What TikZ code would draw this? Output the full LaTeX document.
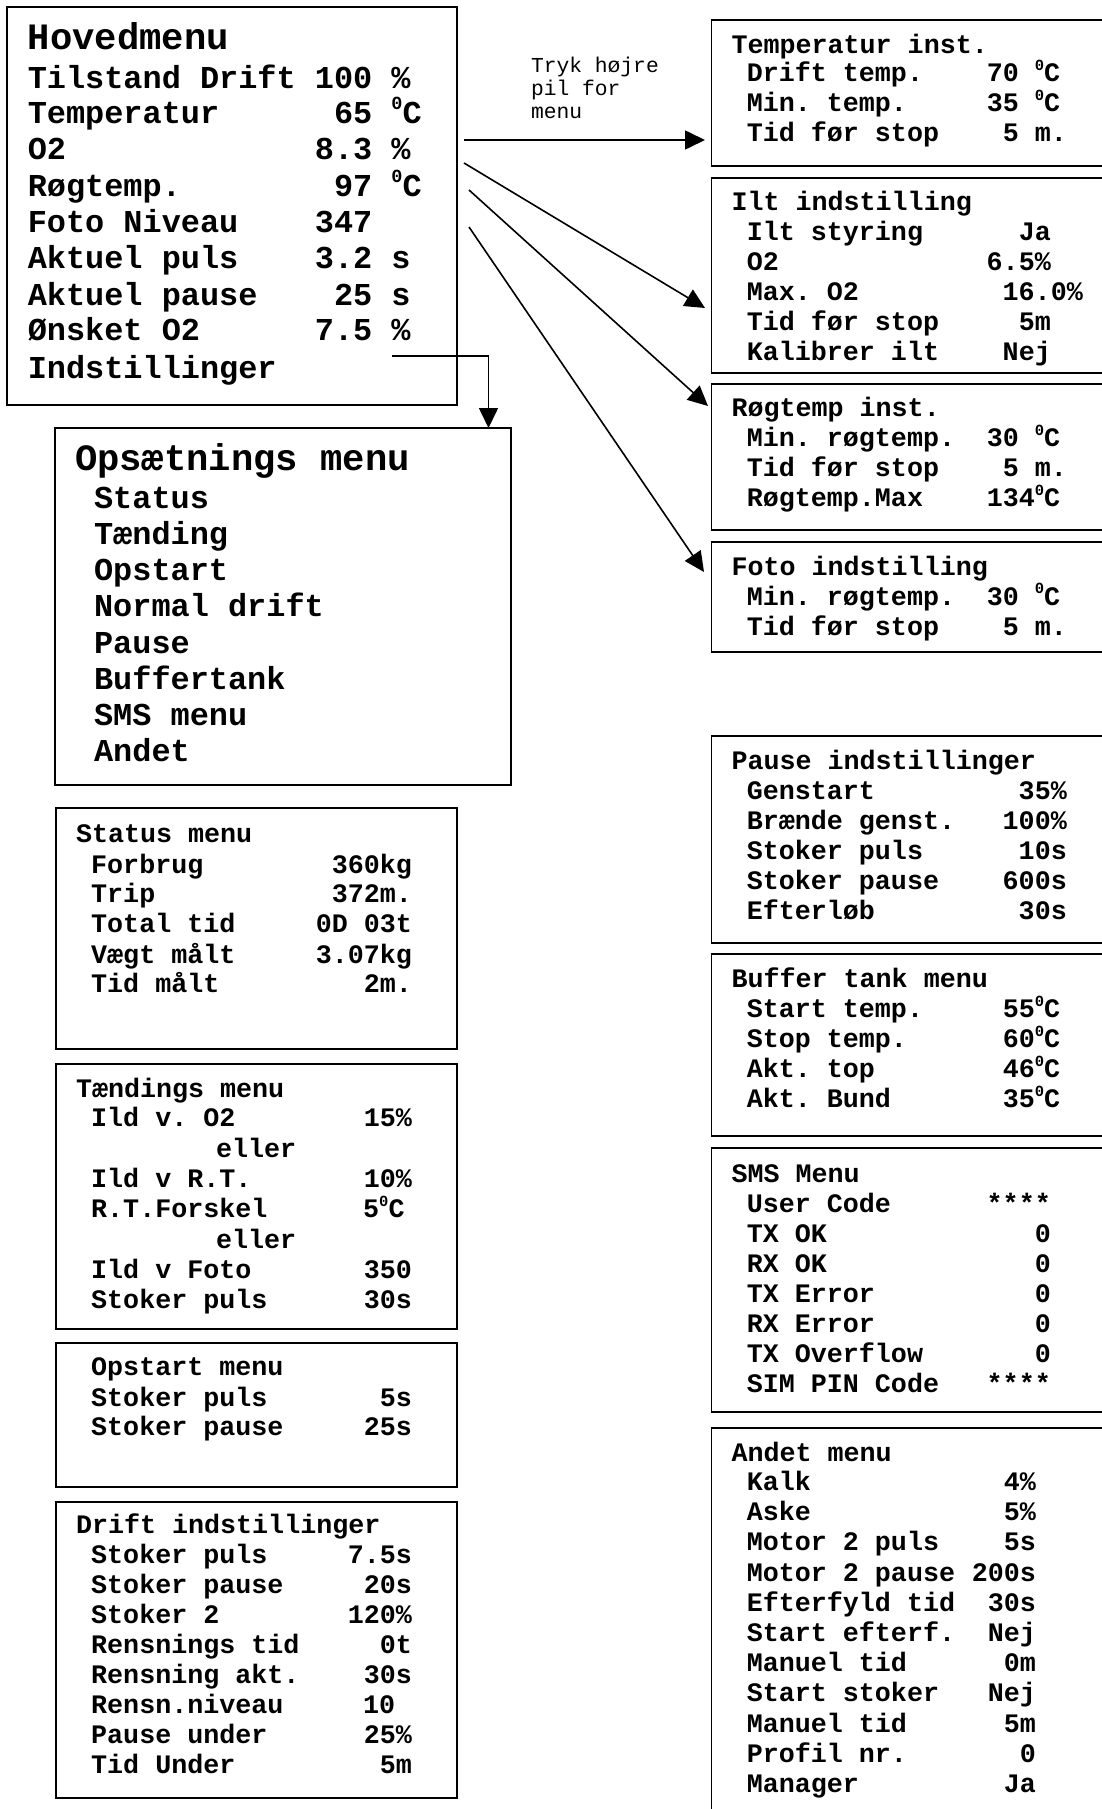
\documentclass[tikz,border=0pt]{standalone}
\usepackage{fontspec}
\setmonofont{Liberation Mono}
\usepackage{graphicx}
\usetikzlibrary{arrows.meta}
\newcommand\dgc{\raisebox{0.42em}{\scalebox{0.58}{0}}C}
\tikzset{
 box/.style={draw=black, line width=1.8pt, rectangle, inner sep=0pt, outer sep=0pt, anchor=north west},
 tx/.style={inner sep=0pt, outer sep=0pt, text=black},
 fhd/.style={tx, font=\ttfamily\bfseries\fontsize{37.2}{40}\selectfont},
 fbig/.style={tx, font=\ttfamily\bfseries\fontsize{31.9}{36}\selectfont},
 fsm/.style={tx, font=\ttfamily\bfseries\fontsize{26.7}{30}\selectfont},
 flab/.style={tx, font=\ttfamily\fontsize{21.3}{23.5}\selectfont},
 aL/.style={anchor=base west},
 aR/.style={anchor=base east},
 conn/.style={line width=1.6pt, draw=black},
 arr/.style={conn, -{Triangle[length=20pt,width=19pt]}},
}
\begin{document}
\begin{tikzpicture}[x=1pt,y=-1pt]
\useasboundingbox (0,0) rectangle (1101,1809);

% ---------- boxes ----------
\node[box, minimum width=450pt, minimum height=398pt] (main) at (7,7) {};
\node[box, minimum width=456pt, minimum height=357pt] (ops) at (55,428) {};
\node[box, minimum width=401pt, minimum height=241pt] (status) at (56,808) {};
\node[box, minimum width=401pt, minimum height=265pt] (taend) at (56,1064) {};
\node[box, minimum width=401pt, minimum height=144pt] (opstart) at (56,1343) {};
\node[box, minimum width=401pt, minimum height=296pt] (drift) at (56,1502) {};
\node[box, minimum width=420pt, minimum height=146pt] (temp) at (711.5,20) {};
\node[box, minimum width=420pt, minimum height=195pt] (ilt) at (711.5,178) {};
\node[box, minimum width=420pt, minimum height=146pt] (rog) at (711.5,384) {};
\node[box, minimum width=420pt, minimum height=110pt] (foto) at (711.5,542) {};
\node[box, minimum width=420pt, minimum height=207pt] (pause) at (711.5,736) {};
\node[box, minimum width=420pt, minimum height=182pt] (buffer) at (711.5,954) {};
\node[box, minimum width=420pt, minimum height=264pt] (sms) at (711.5,1148) {};
\node[box, minimum width=420pt, minimum height=420pt] (andet) at (711.5,1428) {};

% ---------- Hovedmenu ----------
\node[fhd,aL] (mh) at (27.8,50) {Hovedmenu};
\node[fbig,aL] (m1) at (27.8,88.3) {Tilstand Drift};
\node[fbig,aL] (m1v) at (314.9,88.3) {100 \%};
\node[fbig,aL] (m2) at (27.8,123.3) {Temperatur};
\node[fbig,aL] (m2v) at (334.0,123.3) {65 \dgc};
\node[fbig,aL] (m3) at (27.8,159.3) {O2};
\node[fbig,aL] (m3v) at (314.9,159.3) {8.3 \%};
\node[fbig,aL] (m4) at (27.8,196) {Røgtemp.};
\node[fbig,aL] (m4v) at (334.0,196) {97 \dgc};
\node[fbig,aL] (m5) at (27.8,232.7) {Foto Niveau};
\node[fbig,aL] (m5v) at (314.9,232.7) {347};
\node[fbig,aL] (m6) at (27.8,268.3) {Aktuel puls};
\node[fbig,aL] (m6v) at (314.9,268.3) {3.2 s};
\node[fbig,aL] (m7) at (27.8,305) {Aktuel pause};
\node[fbig,aL] (m7v) at (334.0,305) {25 s};
\node[fbig,aL] (m8) at (27.8,340.7) {Ønsket O2};
\node[fbig,aL] (m8v) at (314.9,340.7) {7.5 \%};
\node[fbig,aL] (m9) at (27.8,378.3) {Indstillinger};

% ---------- Opsaetnings menu ----------
\node[fhd,aL] (oh) at (75,470) {Opsætnings menu};
\node[fbig,aL] (o1) at (94.1,508.3) {Status};
\node[fbig,aL] (o2) at (94.1,544.5) {Tænding};
\node[fbig,aL] (o3) at (94.1,580.7) {Opstart};
\node[fbig,aL] (o4) at (94.1,616.9) {Normal drift};
\node[fbig,aL] (o5) at (94.1,653.1) {Pause};
\node[fbig,aL] (o6) at (94.1,689.3) {Buffertank};
\node[fbig,aL] (o7) at (94.1,725.5) {SMS menu};
\node[fbig,aL] (o8) at (94.1,761.7) {Andet};

% ---------- Status menu ----------
\node[fsm,aL] (sh) at (76,842.1) {Status menu};
\node[fsm,aL] (s1) at (91.2,873.2) {Forbrug};      \node[fsm,aR] (s1v) at (412,873.2) {360kg};
\node[fsm,aL] (s2) at (91.2,902.9) {Trip};         \node[fsm,aR] (s2v) at (412,902.9) {372m.};
\node[fsm,aL] (s3) at (91.2,932.9) {Total tid};    \node[fsm,aR] (s3v) at (412,932.9) {0D 03t};
\node[fsm,aL] (s4) at (91.2,963.2) {Vægt målt};    \node[fsm,aR] (s4v) at (412,963.2) {3.07kg};
\node[fsm,aL] (s5) at (91.2,992.9) {Tid målt};     \node[fsm,aR] (s5v) at (412,992.9) {2m.};

% ---------- Taendings menu ----------
\node[fsm,aL] (th) at (76,1097.1) {Tændings menu};
\node[fsm,aL] (t1) at (91.2,1126.8) {Ild v. O2};    \node[fsm,aR] (t1v) at (412,1126.8) {15\%};
\node[fsm,aL] (t2) at (216,1157.1) {eller};
\node[fsm,aL] (t3) at (91.2,1187.5) {Ild v R.T.};   \node[fsm,aR] (t3v) at (412,1187.5) {10\%};
\node[fsm,aL] (t4) at (91.2,1217.9) {R.T.Forskel};  \node[fsm,aL] (t4v) at (363.2,1217.9) {5\dgc};
\node[fsm,aL] (t5) at (216,1248.2) {eller};
\node[fsm,aL] (t6) at (91.2,1278.6) {Ild v Foto};   \node[fsm,aR] (t6v) at (412,1278.6) {350};
\node[fsm,aL] (t7) at (91.2,1308) {Stoker puls};    \node[fsm,aR] (t7v) at (412,1308) {30s};

% ---------- Opstart menu ----------
\node[fsm,aL] (ph) at (91.2,1375.7) {Opstart menu};
\node[fsm,aL] (p1) at (91.2,1406) {Stoker puls};    \node[fsm,aR] (p1v) at (412,1406) {5s};
\node[fsm,aL] (p2) at (91.2,1435) {Stoker pause};   \node[fsm,aR] (p2v) at (412,1435) {25s};

% ---------- Drift indstillinger ----------
\node[fsm,aL] (dh) at (76,1533.3) {Drift indstillinger};
\node[fsm,aL] (d1) at (91.2,1563.3) {Stoker puls};   \node[fsm,aR] (d1v) at (412,1563.3) {7.5s};
\node[fsm,aL] (d2) at (91.2,1593.3) {Stoker pause};  \node[fsm,aR] (d2v) at (412,1593.3) {20s};
\node[fsm,aL] (d3) at (91.2,1623.3) {Stoker 2};      \node[fsm,aR] (d3v) at (412,1623.3) {120\%};
\node[fsm,aL] (d4) at (91.2,1653.3) {Rensnings tid}; \node[fsm,aR] (d4v) at (412,1653.3) {0t};
\node[fsm,aL] (d5) at (91.2,1683.3) {Rensning akt.}; \node[fsm,aR] (d5v) at (412,1683.3) {30s};
\node[fsm,aL] (d6) at (91.2,1713.3) {Rensn.niveau};  \node[fsm,aL] (d6v) at (363.2,1713.3) {10};
\node[fsm,aL] (d7) at (91.2,1743.3) {Pause under};   \node[fsm,aR] (d7v) at (412,1743.3) {25\%};
\node[fsm,aL] (d8) at (91.2,1773.3) {Tid Under};     \node[fsm,aR] (d8v) at (412,1773.3) {5m};

% ---------- Temperatur inst. ----------
\node[fsm,aL] (eh) at (731.5,53.3) {Temperatur inst.};
\node[fsm,aL] (e1) at (746.8,81.7) {Drift temp.};   \node[fsm,aL] (e1v) at (986.8,81.7) {70 \dgc};
\node[fsm,aL] (e2) at (746.8,111.7) {Min. temp.};   \node[fsm,aL] (e2v) at (986.8,111.7) {35 \dgc};
\node[fsm,aL] (e3) at (746.8,141.7) {Tid før stop}; \node[fsm,aL] (e3v) at (1002.8,141.7) {5 m.};

% ---------- Ilt indstilling ----------
\node[fsm,aL] (ih) at (731.5,210) {Ilt indstilling};
\node[fsm,aL] (i1) at (746.8,240) {Ilt styring};    \node[fsm,aR] (i1v) at (1050.8,240) {Ja};
\node[fsm,aL] (i2) at (746.8,270) {O2};             \node[fsm,aR] (i2v) at (1050.8,270) {6.5\%};
\node[fsm,aL] (i3) at (746.8,300) {Max. O2};        \node[fsm,aR] (i3v) at (1082.8,300) {16.0\%};
\node[fsm,aL] (i4) at (746.8,330) {Tid før stop};   \node[fsm,aR] (i4v) at (1050.8,330) {5m};
\node[fsm,aL] (i5) at (746.8,360.5) {Kalibrer ilt}; \node[fsm,aR] (i5v) at (1050.8,360.5) {Nej};

% ---------- Roegtemp inst. ----------
\node[fsm,aL] (rh) at (731.5,416) {Røgtemp inst.};
\node[fsm,aL] (r1) at (746.8,446.7) {Min. røgtemp.}; \node[fsm,aL] (r1v) at (986.8,446.7) {30 \dgc};
\node[fsm,aL] (r2) at (746.8,476.7) {Tid før stop};  \node[fsm,aL] (r2v) at (1002.8,476.7) {5 m.};
\node[fsm,aL] (r3) at (746.8,506.7) {Røgtemp.Max};   \node[fsm,aL] (r3v) at (986.8,506.7) {134\dgc};

% ---------- Foto indstilling ----------
\node[fsm,aL] (fh) at (731.5,575) {Foto indstilling};
\node[fsm,aL] (f1) at (746.8,605) {Min. røgtemp.}; \node[fsm,aL] (f1v) at (986.8,605) {30 \dgc};
\node[fsm,aL] (f2) at (746.8,635) {Tid før stop};  \node[fsm,aL] (f2v) at (1002.8,635) {5 m.};

% ---------- Pause indstillinger ----------
\node[fsm,aL] (qh) at (731.5,769.3) {Pause indstillinger};
\node[fsm,aL] (q1) at (746.8,799) {Genstart};       \node[fsm,aR] (q1v) at (1066.8,799) {35\%};
\node[fsm,aL] (q2) at (746.8,829.3) {Brænde genst.}; \node[fsm,aR] (q2v) at (1066.8,829.3) {100\%};
\node[fsm,aL] (q3) at (746.8,859.3) {Stoker puls};  \node[fsm,aR] (q3v) at (1066.8,859.3) {10s};
\node[fsm,aL] (q4) at (746.8,889.3) {Stoker pause}; \node[fsm,aR] (q4v) at (1066.8,889.3) {600s};
\node[fsm,aL] (q5) at (746.8,919) {Efterløb};       \node[fsm,aR] (q5v) at (1066.8,919) {30s};

% ---------- Buffer tank menu ----------
\node[fsm,aL] (bh) at (731.5,987.7) {Buffer tank menu};
\node[fsm,aL] (b1) at (746.8,1017.7) {Start temp.}; \node[fsm,aL] (b1v) at (1002.8,1017.7) {55\dgc};
\node[fsm,aL] (b2) at (746.8,1047.7) {Stop temp.};  \node[fsm,aL] (b2v) at (1002.8,1047.7) {60\dgc};
\node[fsm,aL] (b3) at (746.8,1077.7) {Akt. top};    \node[fsm,aL] (b3v) at (1002.8,1077.7) {46\dgc};
\node[fsm,aL] (b4) at (746.8,1107.7) {Akt. Bund};   \node[fsm,aL] (b4v) at (1002.8,1107.7) {35\dgc};

% ---------- SMS Menu ----------
\node[fsm,aL] (xh) at (731.5,1182) {SMS Menu};
\node[fsm,aL] (x1) at (746.8,1212.3) {User Code};    \node[fsm,aR] (x1v) at (1050.8,1212.3) {****};
\node[fsm,aL] (x2) at (746.8,1242.4) {TX OK};        \node[fsm,aR] (x2v) at (1050.8,1242.4) {0};
\node[fsm,aL] (x3) at (746.8,1272.5) {RX OK};        \node[fsm,aR] (x3v) at (1050.8,1272.5) {0};
\node[fsm,aL] (x4) at (746.8,1302.6) {TX Error};     \node[fsm,aR] (x4v) at (1050.8,1302.6) {0};
\node[fsm,aL] (x5) at (746.8,1332.7) {RX Error};     \node[fsm,aR] (x5v) at (1050.8,1332.7) {0};
\node[fsm,aL] (x6) at (746.8,1362.8) {TX Overflow};  \node[fsm,aR] (x6v) at (1050.8,1362.8) {0};
\node[fsm,aL] (x7) at (746.8,1392.9) {SIM PIN Code}; \node[fsm,aR] (x7v) at (1050.8,1392.9) {****};

% ---------- Andet menu ----------
\node[fsm,aL] (yh) at (731.5,1461.3) {Andet menu};
\node[fsm,aL] (y1) at (746.8,1490.3) {Kalk};           \node[fsm,aR] (y1v) at (1036,1490.3) {4\%};
\node[fsm,aL] (y2) at (746.8,1520.6) {Aske};           \node[fsm,aR] (y2v) at (1036,1520.6) {5\%};
\node[fsm,aL] (y3) at (746.8,1550.8) {Motor 2 puls};   \node[fsm,aR] (y3v) at (1036,1550.8) {5s};
\node[fsm,aL] (y4) at (746.8,1581.0) {Motor 2 pause};  \node[fsm,aR] (y4v) at (1036,1581.0) {200s};
\node[fsm,aL] (y5) at (746.8,1611.2) {Efterfyld tid};  \node[fsm,aR] (y5v) at (1036,1611.2) {30s};
\node[fsm,aL] (y6) at (746.8,1641.4) {Start efterf.};  \node[fsm,aR] (y6v) at (1036,1641.4) {Nej};
\node[fsm,aL] (y7) at (746.8,1671.6) {Manuel tid};     \node[fsm,aR] (y7v) at (1036,1671.6) {0m};
\node[fsm,aL] (y8) at (746.8,1701.8) {Start stoker};   \node[fsm,aR] (y8v) at (1036,1701.8) {Nej};
\node[fsm,aL] (y9) at (746.8,1732.0) {Manuel tid};     \node[fsm,aR] (y9v) at (1036,1732.0) {5m};
\node[fsm,aL] (y10) at (746.8,1762.2) {Profil nr.};    \node[fsm,aR] (y10v) at (1036,1762.2) {0};
\node[fsm,aL] (y11) at (746.8,1792.0) {Manager};       \node[fsm,aR] (y11v) at (1036,1792.0) {Ja};

% ---------- arrow label ----------
\node[flab,aL] (l1) at (531,72.5) {Tryk højre};
\node[flab,aL] (l2) at (531,95.5) {pil for};
\node[flab,aL] (l3) at (531,118.5) {menu};

% ---------- connectors ----------
\coordinate (a1s) at (464,140);  \coordinate (a1e) at (705,140);
\coordinate (a2s) at (464,163);  \coordinate (a2e) at (705,308);
\coordinate (a3s) at (469,190);  \coordinate (a3e) at (708,406);
\coordinate (a4s) at (469,227);  \coordinate (a4e) at (704,572);
\coordinate (cin) at (392,356);  \coordinate (cout) at (488.5,428);
\draw[arr] (a1s) -- (a1e);
\draw[arr] (a2s) -- (a2e);
\draw[arr] (a3s) -- (a3e);
\draw[arr] (a4s) -- (a4e);
\draw[arr] (cin) -| (cout);
\end{tikzpicture}
\end{document}
